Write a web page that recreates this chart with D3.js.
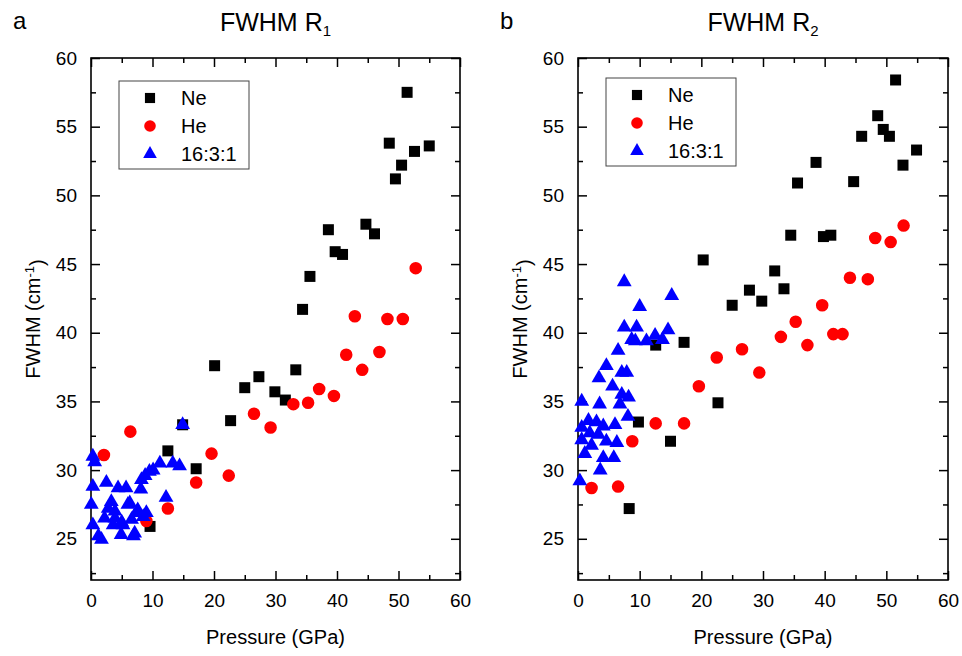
<!DOCTYPE html>
<html>
<head>
<meta charset="utf-8">
<script src="https://cdn.jsdelivr.net/npm/d3@7"></script>
<style>
  body { margin: 0; background: #fff; }
  text { font-family: "Liberation Sans", Arial, sans-serif; fill: #000; }
</style>
</head>
<body>
<script>
// Define constants
const width = 962
const height = 656
const font = 19

// data: [pressure GPa, FWHM cm-1]
const neR1 = [[9.6,25.9],[12.5,31.4],[14.9,33.3],[17.1,30.1],[20.1,37.6],[22.7,33.6],[25.0,36.0],[27.3,36.8],
  [29.9,35.7],[31.6,35.1],[33.3,37.3],[34.4,41.7],[35.6,44.1],[38.6,47.5],[39.7,45.9],[40.9,45.7],
  [44.7,47.9],[46.1,47.2],[48.5,53.8],[49.5,51.2],[50.5,52.2],[51.4,57.5],[52.6,53.2],[55.0,53.6]]
const heR1 = [[2.1,31.1],[6.4,32.8],[9.0,26.3],[12.5,27.2],[17.1,29.1],[19.6,31.2],[22.4,29.6],[26.5,34.1],
  [29.2,33.1],[32.9,34.8],[35.3,34.9],[37.1,35.9],[39.5,35.4],[41.5,38.4],[42.9,41.2],[44.1,37.3],
  [46.9,38.6],[48.2,41.0],[50.7,41.0],[52.8,44.7]]
const mixR1 = [[0.3,31.0],[0.6,30.6],[0.3,28.8],[0.05,27.5],[0.3,26.0],[1.2,25.2],[1.7,24.95],[2.5,29.1],
  [3.3,27.7],[2.8,27.2],[3.9,27.0],[3.9,26.5],[3.6,26.0],[2.2,26.5],[4.4,28.7],[5.7,28.7],[5.0,26.2],
  [4.9,25.3],[6.0,27.5],[6.3,27.6],[6.6,26.4],[5.2,26.0],[6.9,25.2],[7.1,25.4],[7.4,26.9],[7.6,27.1],
  [8.1,28.6],[8.2,29.3],[8.8,29.6],[8.5,26.6],[9.0,26.9],[9.5,29.9],[10.1,30.0],[11.2,30.5],[12.2,28.0],
  [13.3,30.5],[14.4,30.3],[14.9,33.3]]

const neR2 = [[8.3,27.2],[9.8,33.5],[12.6,39.1],[15.0,32.1],[17.2,39.3],[20.3,45.3],[22.7,34.9],[25.0,42.0],
  [27.8,43.1],[29.8,42.3],[31.9,44.5],[33.4,43.2],[34.5,47.1],[35.6,50.9],[38.6,52.4],[39.8,47.0],
  [41.0,47.1],[44.7,51.0],[46.0,54.3],[48.6,55.8],[49.5,54.8],[50.5,54.3],[51.5,58.4],[52.7,52.2],[54.9,53.3]]
const heR2 = [[2.2,28.7],[6.5,28.8],[8.8,32.1],[12.6,33.4],[17.2,33.4],[19.6,36.1],[22.5,38.2],[26.6,38.8],
  [29.4,37.1],[32.9,39.7],[35.3,40.8],[37.2,39.1],[39.6,42.0],[41.4,39.9],[42.9,39.9],[44.1,44.0],
  [47.0,43.9],[48.2,46.9],[50.7,46.6],[52.8,47.8]]
const mixR2 = [[0.3,29.2],[0.6,35.0],[0.6,33.1],[0.6,32.2],[1.1,31.2],[1.7,33.6],[1.9,32.7],[2.2,31.8],
  [3.0,33.5],[3.3,32.6],[3.4,36.7],[3.5,34.8],[3.6,30.0],[4.1,33.2],[4.1,30.9],[4.6,37.6],[4.6,32.1],
  [5.6,36.1],[5.8,30.9],[6.0,33.3],[6.3,32.0],[6.5,38.7],[6.8,34.8],[7.1,37.1],[7.1,35.5],[7.5,43.7],
  [7.5,40.4],[7.9,37.1],[8.1,33.9],[8.2,35.3],[8.7,39.5],[9.3,39.4],[9.5,40.4],[10.0,41.9],[11.1,39.4],
  [12.5,39.8],[13.7,39.5],[14.6,40.2],[15.2,42.7]]

const xTicks = [0, 10, 20, 30, 40, 50, 60]
const xMinor = [5, 15, 25, 35, 45, 55]
const yTicks = [25, 30, 35, 40, 45, 50, 55, 60]
const yMinor = [22.5, 27.5, 32.5, 37.5, 42.5, 47.5, 52.5, 57.5]
const seriesNames = ["Ne", "He", "16:3:1"]

const series = [
  {name: seriesNames[0], color: "#000000", symbol: d3.symbolSquare, size: 121},
  {name: seriesNames[1], color: "#ff0000", symbol: d3.symbolCircle, size: 124},
  {name: seriesNames[2], color: "#0000ff", symbol: d3.symbolTriangle, size: 95}
]

const svg = d3.select("body").append("svg")
  .attr("width", width)
  .attr("height", height)

const render = (opt) => {
  const top = 58, bottom = 580
  const x = d3.scaleLinear().domain([0, 60]).range([opt.left, opt.right])
  const y = d3.scaleLinear().domain([22, 60]).range([bottom, top])
  const g = svg.append("g")

  // ticks all round, pointing in
  const addAxis = (axis, tr, labels) => {
    const a = g.append("g").attr("transform", tr).call(axis)
    a.select(".domain").remove()
    a.selectAll(".tick line").attr("stroke", "#000").attr("stroke-width", 1.5)
    a.selectAll("text").style("font-size", font + "px").style("font-family", "Liberation Sans, Arial, sans-serif")
    if (!labels) a.selectAll("text").remove()
    return a
  }
  addAxis(d3.axisBottom(x).tickValues(xTicks).tickSize(-9).tickPadding(14).tickFormat(d3.format("d")), `translate(0,${bottom})`, true)
  addAxis(d3.axisBottom(x).tickValues(xMinor).tickSize(-5), `translate(0,${bottom})`, false)
  addAxis(d3.axisTop(x).tickValues(xTicks).tickSize(-9), `translate(0,${top})`, false)
  addAxis(d3.axisTop(x).tickValues(xMinor).tickSize(-5), `translate(0,${top})`, false)
  addAxis(d3.axisLeft(y).tickValues(yTicks).tickSize(-9).tickPadding(14), `translate(${opt.left},0)`, true)
  addAxis(d3.axisLeft(y).tickValues(yMinor).tickSize(-5), `translate(${opt.left},0)`, false)
  addAxis(d3.axisRight(y).tickValues(yTicks).tickSize(-9), `translate(${opt.right},0)`, false)
  addAxis(d3.axisRight(y).tickValues(yMinor).tickSize(-5), `translate(${opt.right},0)`, false)

  g.append("rect")
    .attr("x", opt.left).attr("y", top)
    .attr("width", opt.right - opt.left).attr("height", bottom - top)
    .attr("fill", "none").attr("stroke", "#000").attr("stroke-width", 1.6)

  // points
  opt.data.forEach((pts, i) => {
    const s = series[i]
    g.append("g").selectAll("path").data(pts)
      .enter().append("path")
      .attr("transform", d => `translate(${x(d[0])},${y(d[1])})`)
      .attr("d", d3.symbol().type(s.symbol).size(s.size))
      .attr("fill", s.color)
  })

  // legend
  const lg = g.append("g").attr("transform", `translate(${opt.legX},${opt.legY})`)
  lg.append("rect").attr("width", 130).attr("height", 88)
    .attr("fill", "#fff").attr("stroke", "#444").attr("stroke-width", 1)
  series.forEach((s, i) => {
    lg.append("path")
      .attr("transform", `translate(31,${17 + i * 28})`)
      .attr("d", d3.symbol().type(s.symbol).size(s.size * 0.85))
      .attr("fill", s.color)
    lg.append("text")
      .attr("x", 62).attr("y", 17 + i * 28).attr("dy", "0.36em")
      .style("font-size", "20px")
      .text(s.name)
  })

  // labels
  const cx = (opt.left + opt.right) / 2
  g.append("text").attr("x", cx).attr("y", 644)
    .attr("text-anchor", "middle").style("font-size", "20px")
    .text("Pressure (GPa)")

  const yl = g.append("text")
    .attr("transform", `translate(${opt.left - 51},${(top + bottom) / 2}) rotate(-90)`)
    .attr("text-anchor", "middle").style("font-size", "20px")
  yl.append("tspan").text("FWHM (cm")
  yl.append("tspan").attr("dy", "-0.5em").style("font-size", "13px").text("-1")
  yl.append("tspan").attr("dy", "0.5em").text(")")

  const t = g.append("text").attr("x", cx).attr("y", 31)
    .attr("text-anchor", "middle").style("font-size", "25px")
  t.append("tspan").text("FWHM R")
  t.append("tspan").attr("dy", "0.3em").style("font-size", "15px").text(opt.sub)

  g.append("text").attr("x", opt.left - 78).attr("y", 29)
    .style("font-size", "24px").text(opt.letter)
}

render({left: 91, right: 460, legX: 119, legY: 81, data: [neR1, heR1, mixR1], sub: "1", letter: "a"})
render({left: 578, right: 948, legX: 606, legY: 78, data: [neR2, heR2, mixR2], sub: "2", letter: "b"})
</script>
</body>
</html>
